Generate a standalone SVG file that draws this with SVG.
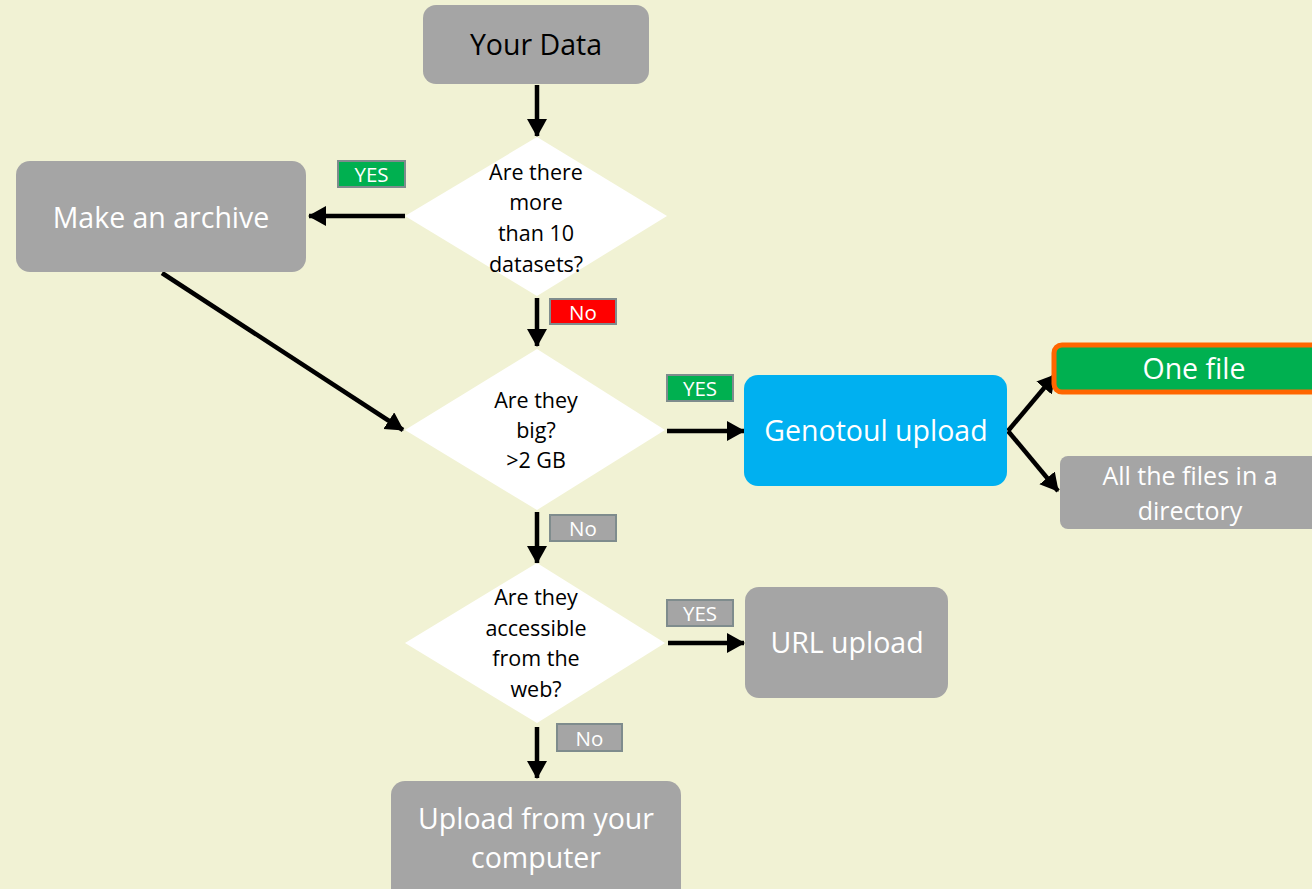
<svg xmlns="http://www.w3.org/2000/svg" width="1312" height="889" viewBox="0 0 1312 889">
<style>
.box{fill:#A5A5A5;}
.t{font-family:"Open Sans",Lato,sans-serif;text-anchor:middle;}
.w{fill:#FFFFFF;}
.k{fill:#000000;}
.dia{fill:#FFFFFF;}
.lbl{stroke:#7F8C8D;stroke-width:2;}
.c{stroke:#000;stroke-width:4.5;fill:none;marker-end:url(#ah);}
.big{font-size:28.5px;}
.q{font-size:21.5px;}
.l{font-size:20.5px;}
</style>
<defs>
<marker id="ah" markerUnits="userSpaceOnUse" markerWidth="22" markerHeight="22" refX="17" refY="10" orient="auto">
<path d="M0,0 L18,10 L0,20 Z" fill="#000"/>
</marker>
</defs>
<rect width="1312" height="889" fill="#F1F2D4"/>
<g id="connectors">
<line class="c" x1="537" y1="85" x2="537" y2="136"/>
<line class="c" x1="405" y1="216" x2="309" y2="216"/>
<line class="c" x1="537" y1="298" x2="537" y2="346"/>
<line class="c" x1="162" y1="273" x2="403" y2="430"/>
<line class="c" x1="667" y1="431" x2="744" y2="431"/>
<line class="c" x1="1008" y1="431" x2="1055" y2="375"/>
<line class="c" x1="1008" y1="431" x2="1058" y2="491"/>
<line class="c" x1="537" y1="512" x2="537" y2="563"/>
<line class="c" x1="668" y1="643" x2="744" y2="643"/>
<line class="c" x1="537" y1="727" x2="537" y2="778"/>
</g>
<g id="your-data">
<rect class="box" x="423" y="5" width="226" height="79" rx="13"/>
<text class="t k big" x="536" y="55">Your Data</text>
</g>
<g id="q1">
<polygon class="dia" points="537,137 667,216 537,296 405,216"/>
<text class="t k q" x="536" y="180">Are there</text>
<text class="t k q" x="536" y="210">more</text>
<text class="t k q" x="536" y="241">than 10</text>
<text class="t k q" x="536" y="272">datasets?</text>
</g>
<g id="yes1">
<rect class="lbl" x="338" y="161" width="67" height="26" fill="#00B050"/>
<text class="t w l" x="371.5" y="182">YES</text>
</g>
<g id="make-archive">
<rect class="box" x="16" y="161" width="290" height="111" rx="14"/>
<text class="t w big" x="161" y="228">Make an archive</text>
</g>
<g id="no1">
<rect class="lbl" x="550" y="299" width="66" height="25" fill="#FF0000"/>
<text class="t w l" x="583" y="320">No</text>
</g>
<g id="q2">
<polygon class="dia" points="537,349 665,430 537,510 405,430"/>
<text class="t k q" x="536" y="408">Are they</text>
<text class="t k q" x="536" y="438">big?</text>
<text class="t k q" x="536" y="468">&gt;2 GB</text>
</g>
<g id="yes2">
<rect class="lbl" x="667" y="375" width="66" height="26" fill="#00B050"/>
<text class="t w l" x="700" y="396">YES</text>
</g>
<g id="genotoul">
<rect x="744" y="375" width="263" height="111" rx="14" fill="#00B0F0"/>
<text class="t w big" x="876" y="441">Genotoul upload</text>
</g>
<g id="one-file">
<rect x="1054" y="345" width="266" height="47" rx="8" fill="#00B050" stroke="#FF6600" stroke-width="5"/>
<text class="t w big" x="1194" y="379">One file</text>
</g>
<g id="all-files">
<rect class="box" x="1060" y="456" width="262" height="73" rx="8"/>
<text class="t w" x="1190" y="485" font-size="25">All the files in a</text>
<text class="t w" x="1190" y="520" font-size="25">directory</text>
</g>
<g id="no2">
<rect class="lbl box" x="550" y="515" width="66" height="26"/>
<text class="t w l" x="583" y="536">No</text>
</g>
<g id="q3">
<polygon class="dia" points="537,563 665,643 537,723 405,643"/>
<text class="t k q" x="536" y="605">Are they</text>
<text class="t k q" x="536" y="636">accessible</text>
<text class="t k q" x="536" y="666">from the</text>
<text class="t k q" x="536" y="697">web?</text>
</g>
<g id="yes3">
<rect class="lbl box" x="667" y="600" width="66" height="26"/>
<text class="t w l" x="700" y="621">YES</text>
</g>
<g id="url-upload">
<rect class="box" x="745" y="587" width="203" height="111" rx="14"/>
<text class="t w big" x="847" y="653">URL upload</text>
</g>
<g id="no3">
<rect class="lbl box" x="557" y="724" width="65" height="27"/>
<text class="t w l" x="589.5" y="746">No</text>
</g>
<g id="upload-computer">
<rect class="box" x="391" y="781" width="290" height="125" rx="14"/>
<text class="t w big" x="536" y="829">Upload from your</text>
<text class="t w big" x="536" y="868">computer</text>
</g>
</svg>
